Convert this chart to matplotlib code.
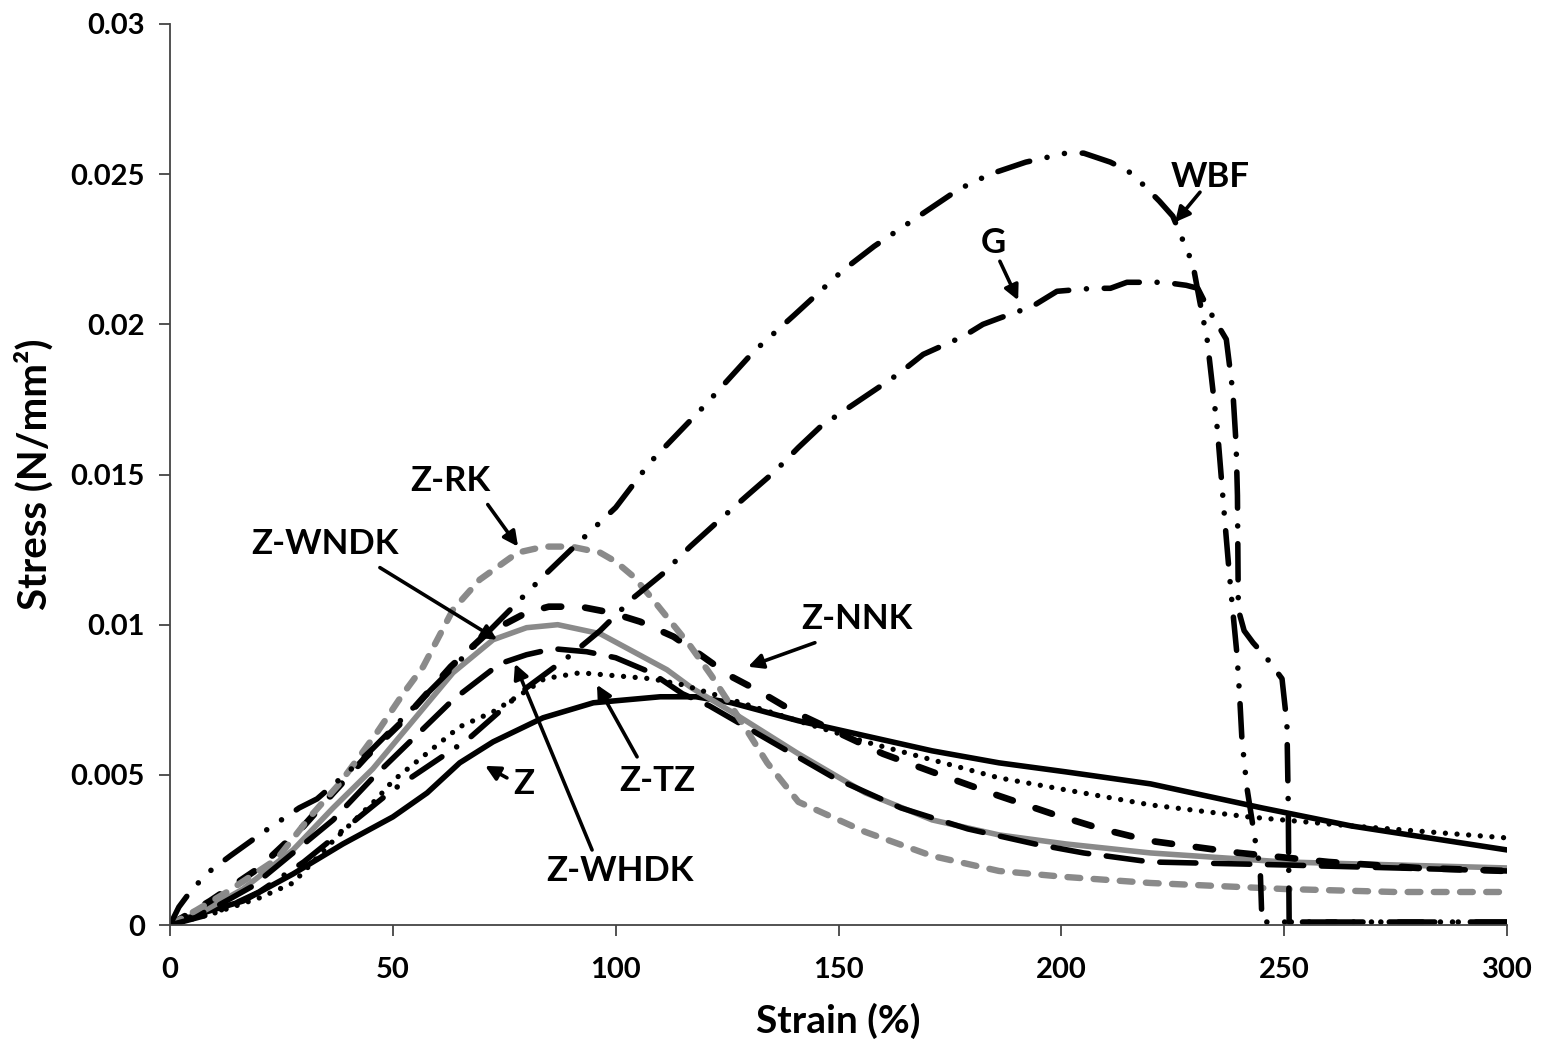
import matplotlib.pyplot as plt

plt.rcParams['font.family'] = ['Lato', 'DejaVu Sans']
plt.rcParams['font.weight'] = 'bold'

# Stress-strain data (strain %, stress N/mm2)
wbf_x = [0, 2, 5, 9, 13.5, 21, 29, 33, 40, 45, 55, 65, 75, 83.7, 90, 100, 107.7, 120, 131,
         140, 151, 158, 166, 177, 184, 192, 201, 205, 211, 215, 218, 222, 225, 229.5, 231,
         232.7, 234, 235, 236.7, 237.5, 238.3, 239.4, 240, 240.5, 241.6, 243.5, 244.6, 245,
         250, 260, 270, 280, 290, 300]
wbf_y = [0, 0.0006, 0.0012, 0.0018, 0.0023, 0.0031, 0.0039, 0.0042, 0.0051, 0.0058, 0.0073,
         0.0088, 0.0103, 0.0116, 0.0125, 0.0139, 0.0154, 0.0173, 0.0191, 0.0203, 0.0218,
         0.0226, 0.0234, 0.0245, 0.0250, 0.0254, 0.0257, 0.0257, 0.0254, 0.0251, 0.0247,
         0.0241, 0.0236, 0.0220, 0.0208, 0.0195, 0.0178, 0.0165, 0.0134, 0.0120, 0.0107,
         0.0090, 0.0076, 0.0062, 0.0046, 0.0028, 0.0019, 0.0001, 0.0001, 0.0001, 0.0001,
         0.0001, 0.0001, 0.0001]

g_x = [0, 10, 20, 30, 40, 50, 57, 67, 80, 90, 96.5, 104, 110.6, 116.7, 123.4, 129.5, 135.7,
       141, 146, 152, 156, 162, 165.6, 169, 178, 182.4, 186, 193.5, 196.8, 199, 207, 211,
       214.7, 223, 228, 230.6, 233, 237, 238.5, 239.2, 239.5, 239.7, 241, 243, 246, 249.5,
       250.6, 250.9, 251.1, 260, 280, 300]
g_y = [0, 0.0004, 0.0011, 0.0021, 0.0033, 0.0045, 0.0052, 0.0062, 0.0079, 0.0090, 0.0098,
       0.0109, 0.0117, 0.0126, 0.0135, 0.0143, 0.0151, 0.0159, 0.0166, 0.0172, 0.0176,
       0.0182, 0.0186, 0.0190, 0.0196, 0.0200, 0.0202, 0.0206, 0.0209, 0.0211, 0.0212,
       0.0212, 0.0214, 0.0214, 0.0213, 0.0212, 0.0205, 0.0195, 0.0177, 0.0160, 0.0143,
       0.0105, 0.0098, 0.0094, 0.0089, 0.0082, 0.0067, 0.0040, 0.0001, 0.0001, 0.0001, 0.0001]

zrk_x = [0, 6, 12.8, 24, 31.4, 38, 46.4, 52.3, 56.8, 63.5, 69.5, 78, 84, 90, 96.5, 100, 104,
         108, 116.7, 121.5, 128.5, 134, 141, 156, 171, 186, 201, 220, 250, 275, 300]
zrk_y = [0, 0.0005, 0.0011, 0.0022, 0.0036, 0.0047, 0.0064, 0.0077, 0.0086, 0.0105, 0.0115,
         0.0124, 0.0126, 0.0126, 0.0124, 0.0121, 0.0116, 0.0109, 0.0093, 0.0083, 0.0067,
         0.0054, 0.0041, 0.0031, 0.0023, 0.0018, 0.0016, 0.0014, 0.0012, 0.0011, 0.0011]

znnk_x = [0, 9, 20, 30, 36.6, 44, 51.6, 57.6, 63, 71, 80, 85, 92, 99, 105.5, 113, 119, 125.6,
          132, 140, 150, 160, 171, 186, 198, 209, 220, 240, 260, 280, 300]
znnk_y = [0, 0.0008, 0.0019, 0.0033, 0.0044, 0.0056, 0.0067, 0.0077, 0.0086, 0.0097, 0.0104,
          0.0106, 0.0106, 0.0104, 0.0101, 0.0096, 0.0090, 0.0083, 0.0078, 0.0071, 0.0064,
          0.0057, 0.0051, 0.0043, 0.0037, 0.0032, 0.0028, 0.0024, 0.0021, 0.0019, 0.0018]

zwndk_x = [0, 8, 16.4, 27.6, 36.6, 45.5, 54.5, 63.5, 72.5, 80, 87, 96.5, 104, 111.5, 117, 126,
           141, 156, 171, 186, 201, 220, 250, 275, 300]
zwndk_y = [0, 0.0005, 0.0012, 0.0025, 0.0039, 0.0052, 0.0068, 0.0084, 0.0095, 0.0099, 0.0100,
           0.0097, 0.0091, 0.0085, 0.0079, 0.0071, 0.0057, 0.0044, 0.0035, 0.0030, 0.0027,
           0.0024, 0.0021, 0.0020, 0.0019]

zwhdk_x = [0, 9, 18.6, 27.6, 36.6, 45.5, 54.5, 63.5, 74, 80, 86, 93.5, 100, 108, 115, 121,
           135, 149, 164, 179, 194, 205, 220, 250, 275, 300]
zwhdk_y = [0, 0.0005, 0.0013, 0.0024, 0.0035, 0.0049, 0.0062, 0.0075, 0.0087, 0.0090, 0.0092,
           0.0091, 0.0089, 0.0084, 0.0077, 0.0073, 0.0061, 0.0049, 0.0039, 0.0032, 0.0027,
           0.0024, 0.0021, 0.0020, 0.0019, 0.0018]

ztz_x = [0, 10, 20, 27.6, 36.6, 46.4, 50, 60, 65, 72.5, 80, 84, 92, 100, 108, 115, 126, 143,
         156, 171, 186, 201, 220, 242, 265, 300]
ztz_y = [0, 0.0004, 0.0009, 0.0014, 0.0028, 0.0042, 0.0048, 0.0060, 0.0066, 0.0071, 0.0078,
         0.0082, 0.0084, 0.0083, 0.0082, 0.0080, 0.0075, 0.0067, 0.0061, 0.0055, 0.0049,
         0.0045, 0.0040, 0.0036, 0.0033, 0.0029]

z_x = [0, 5, 16.4, 27.6, 38.8, 50, 57.7, 65, 72.5, 83.7, 95, 110, 118, 126, 141, 156, 171,
       186, 201, 220, 245, 265, 300]
z_y = [0, 0.0003, 0.0008, 0.0017, 0.0027, 0.0036, 0.0044, 0.0054, 0.0061, 0.0069, 0.0074,
       0.0076, 0.0076, 0.0074, 0.0068, 0.0063, 0.0058, 0.0054, 0.0051, 0.0047, 0.0039,
       0.0033, 0.0025]

# labels: text position, arrow tail, arrow tip
labels = ["WBF", "G", "Z-RK", "Z-WNDK", "Z-NNK", "Z-TZ", "Z", "Z-WHDK"]
label_xy = [(233.5, 0.0249), (184.7, 0.0227), (62.8, 0.0148), (34.8, 0.0127),
            (154.1, 0.0102), (109.3, 0.0048), (79.4, 0.0047), (101, 0.0018)]
tail_xy = [(231.1, 0.0244), (186.2, 0.0221), (71.3, 0.0140), (47.1, 0.0119),
           (144.7, 0.0094), (104.8, 0.0056), (75.6, 0.0049), (94.7, 0.0025)]
tip_xy = [(225.5, 0.0234), (190.3, 0.0208), (78.1, 0.0126), (73.4, 0.0095),
          (129.7, 0.0086), (95.8, 0.0080), (70.7, 0.0053), (77.4, 0.0087)]

black = "black"
gray = "#8a8a8a"

fig = plt.figure(figsize=(15.41, 10.43), dpi=100)
ax = fig.add_axes([0.1103, 0.1131, 0.8677, 0.8639])

ax.plot(z_x, z_y, color=black, lw=4, solid_capstyle='round')
ax.plot(zwndk_x, zwndk_y, color=gray, lw=4, solid_capstyle='round')
ax.plot(ztz_x, ztz_y, color=black, lw=3.8, linestyle=(0, (0.01, 2.2)), dash_capstyle='round')
ax.plot(zwhdk_x, zwhdk_y, color=black, lw=4, linestyle=(0, (6.5, 3.2)), dash_capstyle='round')
ax.plot(znnk_x, znnk_y, color=black, lw=4.8, linestyle=(0, (2.6, 3.6)), dash_capstyle='round')
ax.plot(zrk_x, zrk_y, color=gray, lw=4.6, linestyle=(0, (2, 2.1)), dash_capstyle='round')
ax.plot(g_x, g_y, color=black, lw=4, linestyle=(0, (6.5, 3.2, 0.01, 3.2)), dash_capstyle='round')
ax.plot(wbf_x, wbf_y, color=black, lw=4,
        linestyle=(0, (6, 3.2, 0.01, 3.2, 0.01, 3.2)), dash_capstyle='round')

for lab, (tx, ty), (sx, sy), (px, py) in zip(labels, label_xy, tail_xy, tip_xy):
    ax.text(tx, ty, lab, fontsize=25, fontweight='bold', ha='center', va='center')
    ax.annotate("", xy=(px, py), xytext=(sx, sy),
                arrowprops=dict(arrowstyle='-|>', color='black', lw=2.6,
                                mutation_scale=22, shrinkA=0, shrinkB=0))

ax.set_xlim(0, 300)
ax.set_ylim(0, 0.03)
ax.set_xticks([0, 50, 100, 150, 200, 250, 300])
ax.set_yticks([0, 0.005, 0.01, 0.015, 0.02, 0.025, 0.03])
ax.set_yticklabels(["0", "0.005", "0.01", "0.015", "0.02", "0.025", "0.03"])
ax.tick_params(direction='out', length=8, width=1.3, labelsize=21, pad=10, color='#444444')
ax.tick_params(axis='x', pad=15)
for t in ax.get_xticklabels() + ax.get_yticklabels():
    t.set_fontweight('bold')
ax.spines['top'].set_visible(False)
ax.spines['right'].set_visible(False)
ax.spines['left'].set_color('#444444')
ax.spines['bottom'].set_color('#444444')
ax.spines['left'].set_linewidth(1.3)
ax.spines['bottom'].set_linewidth(1.3)

ax.set_xlabel("Strain (%)", fontsize=28, fontweight='bold', labelpad=14)
ax.set_ylabel("Stress (N/mm²)", fontsize=29, fontweight='bold', labelpad=12)

fig.savefig("out.png", dpi=100)
